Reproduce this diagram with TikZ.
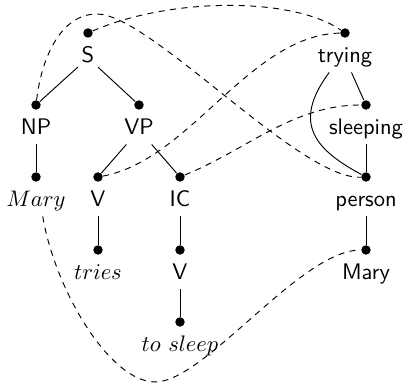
\documentclass[tikz,border=0pt]{standalone}
\begin{document}
\begin{tikzpicture}[x=0.4444pt,y=-0.4444pt,
  dot/.style={circle,fill,inner sep=0pt,minimum size=4.2pt},
  lab/.style={anchor=base,font=\sffamily,text height=7pt,text depth=2.5pt,inner sep=1.5pt},
  edge/.style={line width=0.42pt},
  link/.style={line width=0.42pt,dash pattern=on 2.7pt off 2.4pt}]
\useasboundingbox (0,0) rectangle (404,385);
\newcommand\tn[4]{\node[dot] (d#1) at (#2,#3) {};\node[lab] (t#1) at (#2,#3+30) {#4};}
\tn{S}{88}{33}{S}
\tn{NP}{36}{105}{NP}
\tn{VP}{139}{105}{VP}
\tn{MaryI}{36}{177}{$Mary$}
\tn{Va}{98}{177}{V}
\tn{IC}{180}{177}{IC}
\tn{tries}{98}{250}{$tries$}
\tn{Vb}{180}{250}{V}
\tn{tosleep}{180}{322}{$to\ sleep$}
\tn{trying}{345}{33}{trying}
\tn{sleeping}{366}{105}{sleeping}
\tn{person}{366}{177}{person}
\tn{MaryS}{366}{250}{Mary}
% tree edges
\draw[edge] (tS) -- (dNP);
\draw[edge] (tS) -- (dVP);
\draw[edge] (tNP) -- (dMaryI);
\draw[edge] (tVP) -- (dVa);
\draw[edge] (tVP) -- (dIC);
\draw[edge] (tVa) -- (dtries);
\draw[edge] (tIC) -- (dVb);
\draw[edge] (tVb) -- (dtosleep);
\draw[edge] (ttrying) -- (dsleeping);
\draw[edge] ([xshift=-7pt]ttrying.south) .. controls (290,125) and (318,151) .. (dperson);
\draw[edge] (tsleeping) -- (dperson);
\draw[edge] (tperson) -- (dMaryS);
% links
\draw[link] (dS) .. controls (171,-3) and (293,-3) .. (dtrying);
\draw[link] (dNP) .. controls (42,55) and (62,14) .. (97,14) .. controls (150,14) and (300,180) .. (dperson);
\draw[link] (dVa) .. controls (190,160) and (250,35) .. (dtrying);
\draw[link] (dIC) .. controls (248,149) and (293,105) .. (dsleeping);
\draw[link] ([xshift=3pt]tMaryI.south) .. controls (55,290) and (110,382) .. (155,382) .. controls (205,382) and (300,250) .. (dMaryS);
\end{tikzpicture}
\end{document}
